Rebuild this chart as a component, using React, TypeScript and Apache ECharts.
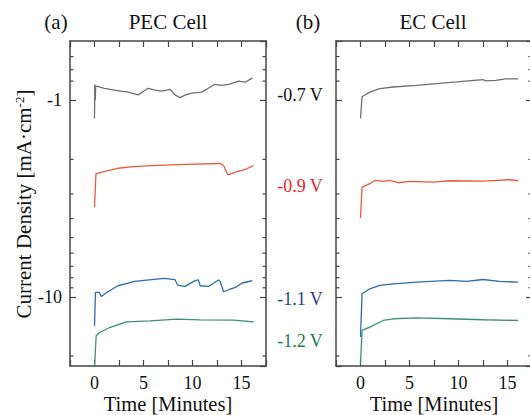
import React, { useEffect, useRef } from "react";
import * as echarts from "echarts";

// time [min], |current density| [mA/cm^2]
const pecV07: [number, number][] = [
  [0, 1.24], [0.03, 0.83], [0.08, 1.0], [0.12, 0.85], [0.34, 0.85], [1.0, 0.87], [2.05, 0.89],
  [2.7, 0.9], [3.42, 0.91], [4.45, 0.94], [5.0, 0.9], [5.47, 0.87], [6.2, 0.89], [6.85, 0.9],
  [7.7, 0.88], [8.2, 0.94], [8.73, 0.97], [9.3, 0.94], [9.93, 0.92], [10.95, 0.91], [11.6, 0.87],
  [12.3, 0.83], [13.0, 0.84], [13.7, 0.83], [14.7, 0.8], [15.4, 0.81], [16.1, 0.77],
];
const pecV09: [number, number][] = [
  [0, 3.5], [0.15, 2.37], [1.03, 2.3], [2.39, 2.22], [4.0, 2.18], [5.82, 2.15], [9.24, 2.12],
  [12.83, 2.1], [13.17, 2.15], [13.62, 2.4], [14.37, 2.32], [15.4, 2.25], [16.25, 2.15],
];
const pecV11: [number, number][] = [
  [0, 14.1], [0.1, 9.5], [0.51, 9.5], [0.69, 9.96], [1.37, 9.43], [2.39, 8.79], [4.11, 8.36],
  [5.82, 8.19], [7.08, 8.07], [8.21, 8.19], [8.49, 8.72], [9.24, 8.86], [10.27, 8.28], [10.6, 8.21],
  [10.78, 8.79], [11.63, 8.86], [12.66, 8.21], [12.83, 8.38], [13.17, 9.43], [13.69, 9.21],
  [14.37, 8.97], [15.06, 8.51], [16.09, 8.29],
];
const pecV12: [number, number][] = [
  [0, 23], [0.17, 15.8], [0.51, 15.2], [1.54, 14.34], [3.25, 13.42], [5.65, 13.26], [8.39, 13.0],
  [10.78, 13.1], [14.2, 13.14], [16.25, 13.42],
];
const ecV07: [number, number][] = [
  [0, 1.24], [0.16, 0.96], [0.95, 0.91], [1.97, 0.874], [3.33, 0.857], [5.71, 0.841], [7.76, 0.824],
  [9.8, 0.808], [12.5, 0.786], [12.78, 0.798], [13.8, 0.793], [14.8, 0.78], [16.08, 0.78],
];
const ecV09: [number, number][] = [
  [0, 3.98], [0.16, 2.77], [0.95, 2.66], [1.46, 2.56], [2.31, 2.59], [2.99, 2.56], [3.84, 2.63],
  [5.03, 2.59], [7.42, 2.61], [9.11, 2.57], [12.5, 2.58], [15.2, 2.54], [16.08, 2.57],
];
const ecV11: [number, number][] = [
  [0, 16.0], [0.16, 9.65], [0.95, 9.11], [1.97, 8.76], [3.33, 8.59], [5.71, 8.42], [9.11, 8.26],
  [10.82, 8.36], [12.5, 8.17], [14.2, 8.36], [16.08, 8.42],
];
const ecV12: [number, number][] = [
  [0, 22], [0.16, 14.84], [0.95, 14.26], [2.31, 13.2], [3.33, 12.94], [5.71, 12.79], [9.11, 12.94],
  [12.5, 13.09], [16.08, 13.2],
];

const voltageLabels = ["-0.7 V", "-0.9 V", "-1.1 V", "-1.2 V"];
const panelTitles = ["PEC Cell", "EC Cell"];
const panelLetters = ["(a)", "(b)"];
const xTitle = "Time [Minutes]";
const yMinorTicks = [0.6, 0.7, 0.8, 2, 3, 4, 5, 6, 7, 8, 9, 20];

const FONT = "'Liberation Serif', 'Times New Roman', serif";
const AXIS_COLOR = "#444";
const lineColors = ["#6e6e6e", "#ea5a3c", "#2b6cb0", "#3b8f7c"];
const textColors = ["#111111", "#e8232b", "#2f3b8c", "#21794f"];

const X_MIN = -2.5;
const X_MAX = 17.5;
const Y_MIN = 0.5;
const Y_MAX = 22.5;

export default function App() {
  const ref = useRef<HTMLDivElement>(null);

  useEffect(() => {
    if (!ref.current) return;
    const chart = echarts.init(ref.current, undefined, { renderer: "svg" });

    const grids = [
      { left: 70, top: 41, width: 196, height: 325, containLabel: false, outerBoundsMode: "none" },
      { left: 336, top: 41, width: 196, height: 325, containLabel: false, outerBoundsMode: "none" },
    ];

    const xAxis: any[] = [];
    const yAxis: any[] = [];
    for (let g = 0; g < 2; g++) {
      for (const pos of ["bottom", "top"]) {
        xAxis.push({
          type: "value",
          gridIndex: g,
          position: pos,
          min: X_MIN,
          max: X_MAX,
          interval: 2.5,
          axisLine: { show: true, onZero: false, lineStyle: { color: AXIS_COLOR, width: 1.5 } },
          axisTick: { show: true, inside: true, length: 6, lineStyle: { color: AXIS_COLOR, width: 1.2 } },
          splitLine: { show: false },
          axisLabel: {
            show: pos === "bottom",
            margin: 8,
            color: "#111",
            fontFamily: FONT,
            fontSize: 18,
            formatter: (v: number) => (Math.abs(v % 5) < 1e-9 ? String(v) : ""),
          },
        });
      }
      for (const pos of ["left", "right"]) {
        yAxis.push({
          type: "log",
          logBase: 10,
          gridIndex: g,
          position: pos,
          inverse: true,
          min: Y_MIN,
          max: Y_MAX,
          axisLine: { show: true, onZero: false, lineStyle: { color: AXIS_COLOR, width: 1.5 } },
          axisTick: { show: true, inside: true, length: 6, lineStyle: { color: AXIS_COLOR, width: 1.2 } },
          splitLine: { show: false },
          axisLabel: {
            show: g === 0 && pos === "left",
            showMinLabel: false,
            showMaxLabel: false,
            margin: 8,
            color: "#111",
            fontFamily: FONT,
            fontSize: 18,
            formatter: (v: number) => {
              const l = Math.log10(v);
              return Math.abs(l - Math.round(l)) < 1e-6 ? "-" + Math.round(v) : "";
            },
          },
        });
      }
    }

    const mk = (data: [number, number][], color: string, g: number) => ({
      type: "line",
      data,
      xAxisIndex: g * 2,
      yAxisIndex: g * 2,
      showSymbol: false,
      symbol: "none",
      lineStyle: { color, width: 1.3 },
      silent: true,
    });

    const series = [
      mk(pecV07, lineColors[0], 0),
      mk(pecV09, lineColors[1], 0),
      mk(pecV11, lineColors[2], 0),
      mk(pecV12, lineColors[3], 0),
      mk(ecV07, lineColors[0], 1),
      mk(ecV09, lineColors[1], 1),
      mk(ecV11, lineColors[2], 1),
      mk(ecV12, lineColors[3], 1),
    ];

    chart.setOption({
      animation: false,
      backgroundColor: "#ffffff",
      grid: grids,
      xAxis,
      yAxis,
      series,
    });

    const graphic: any[] = [];
    // minor log ticks, positioned through the axis scale
    for (let g = 0; g < 2; g++) {
      const xl = chart.convertToPixel({ xAxisIndex: g * 2 }, X_MIN) as number;
      const xr = chart.convertToPixel({ xAxisIndex: g * 2 }, X_MAX) as number;
      for (const v of yMinorTicks) {
        const y = chart.convertToPixel({ yAxisIndex: g * 2 }, v) as number;
        graphic.push({
          type: "line",
          shape: { x1: xl, y1: y, x2: xl + 3.5, y2: y },
          style: { stroke: AXIS_COLOR, lineWidth: 1.2 },
          silent: true,
        });
        graphic.push({
          type: "line",
          shape: { x1: xr - 3.5, y1: y, x2: xr, y2: y },
          style: { stroke: AXIS_COLOR, lineWidth: 1.2 },
          silent: true,
        });
      }
    }

    const txt = (text: string, x: number, y: number, color: string, size: number, extra: any = {}) => ({
      type: "text",
      x,
      y,
      silent: true,
      style: {
        text,
        fill: color,
        fontFamily: FONT,
        fontSize: size,
        align: "center",
        verticalAlign: "middle",
        ...extra,
      },
    });

    graphic.push(txt(panelLetters[0], 56, 22, "#111", 21));
    graphic.push(txt(panelTitles[0], 168, 22, "#111", 21));
    graphic.push(txt(panelLetters[1], 308, 22, "#111", 21));
    graphic.push(txt(panelTitles[1], 433, 22, "#111", 21));
    graphic.push(txt(xTitle, 168, 404, "#111", 20.5));
    graphic.push(txt(xTitle, 434, 404, "#111", 20.5));

    const labelY = [95, 186, 299, 341];
    voltageLabels.forEach((t, i) => {
      graphic.push(txt(t, 300, labelY[i], textColors[i], 18));
    });

    graphic.push({
      type: "text",
      x: 24,
      y: 204,
      rotation: Math.PI / 2,
      silent: true,
      style: {
        text: "Current Density [mA·cm{sup|-2}]",
        fill: "#111",
        fontFamily: FONT,
        fontSize: 21,
        align: "center",
        verticalAlign: "middle",
        rich: {
          sup: { fontSize: 13, fontFamily: FONT, fill: "#111", verticalAlign: "top", lineHeight: 22 },
        },
      },
    });

    chart.setOption({ graphic });

    return () => chart.dispose();
  }, []);

  return (
    <div
      ref={ref}
      style={{ position: "absolute", left: 0, top: 0, width: 530, height: 415, background: "#fff" }}
    />
  );
}
